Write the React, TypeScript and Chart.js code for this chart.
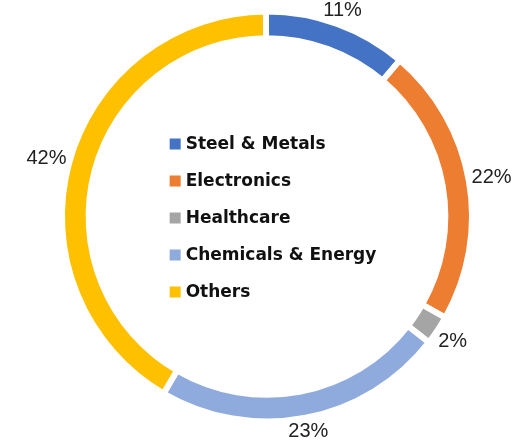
import React, { useEffect, useRef } from "react";
import { Chart, registerables } from "chart.js";

Chart.register(...registerables);

const categories = ["Steel & Metals", "Electronics", "Healthcare", "Chemicals & Energy", "Others"];
const shares = [11.3, 22.0, 2.3, 22.9, 41.5];
const colors = ["#4472C4", "#ED7D31", "#A5A5A5", "#8FAADC", "#FFC000"];

const labelPlugin = {
  id: "outerLabels",
  afterDraw(chart: any) {
    const ctx = chart.ctx;
    const meta = chart.getDatasetMeta(0);
    const data = chart.data.datasets[0].data as number[];
    const total = data.reduce((a, b) => a + b, 0);
    ctx.save();
    ctx.font = '20px "Liberation Sans", Arial, sans-serif';
    ctx.fillStyle = "#222222";
    ctx.textAlign = "center";
    ctx.textBaseline = "middle";
    meta.data.forEach((arc: any, i: number) => {
      const p = arc.getProps(["x", "y", "startAngle", "endAngle", "outerRadius"], true);
      const mid = (p.startAngle + p.endAngle) / 2;
      const ux = Math.cos(mid);
      const uy = Math.sin(mid);
      const text = Math.round((data[i] * 100) / total) + "%";
      const w = ctx.measureText(text).width;
      const h = 15;
      const ext = Math.abs(ux) * w / 2 + Math.abs(uy) * h / 2;
      const r = p.outerRadius + 2 + ext;
      ctx.fillText(text, p.x + ux * r, p.y + uy * r + 1);
    });
    ctx.restore();
  },
};

const centerLegendPlugin = {
  id: "centerLegend",
  afterDraw(chart: any) {
    const ctx = chart.ctx;
    const meta = chart.getDatasetMeta(0);
    const arc = meta.data[0];
    if (!arc) return;
    const cx = arc.x;
    const cy = arc.y;
    const labels = chart.data.labels as string[];
    const bg = chart.data.datasets[0].backgroundColor as string[];
    ctx.save();
    ctx.font = 'bold 17px "DejaVu Sans", Verdana, sans-serif';
    ctx.textBaseline = "middle";
    ctx.textAlign = "left";
    const rowH = 37;
    const box = 11;
    const gap = 5;
    const maxW = Math.max(...labels.map((l) => ctx.measureText(l).width));
    const left = cx - (box + gap + maxW) / 2 + 6;
    const top = cy + 2 - ((labels.length - 1) * rowH) / 2;
    labels.forEach((l, i) => {
      const y = top + i * rowH;
      ctx.fillStyle = bg[i];
      ctx.fillRect(left, y - box / 2 - 0.5, box, box);
      ctx.fillStyle = "#111111";
      ctx.fillText(l, left + box + gap, y);
    });
    ctx.restore();
  },
};

export default function App() {
  const ref = useRef<HTMLCanvasElement | null>(null);
  useEffect(() => {
    document.body.style.margin = "0";
    if (!ref.current) return;
    const chart = new Chart(ref.current, {
      type: "doughnut",
      data: {
        labels: categories,
        datasets: [
          {
            data: shares,
            backgroundColor: colors,
            borderColor: "#ffffff",
            borderWidth: 6,
            borderJoinStyle: "miter",
          },
        ],
      },
      options: {
        responsive: false,
        maintainAspectRatio: false,
        animation: false,
        radius: 205,
        cutout: "87%",
        rotation: -0.3,
        layout: { padding: { left: 19, right: 0, top: 0, bottom: 11 } },
        plugins: {
          legend: { display: false },
          tooltip: { enabled: false },
        },
      } as any,
      plugins: [labelPlugin, centerLegendPlugin],
    });
    return () => chart.destroy();
  }, []);
  return (
    <div style={{ width: 515, height: 444, background: "#fff" }}>
      <canvas ref={ref} width={515} height={444} style={{ display: "block" }} />
    </div>
  );
}
